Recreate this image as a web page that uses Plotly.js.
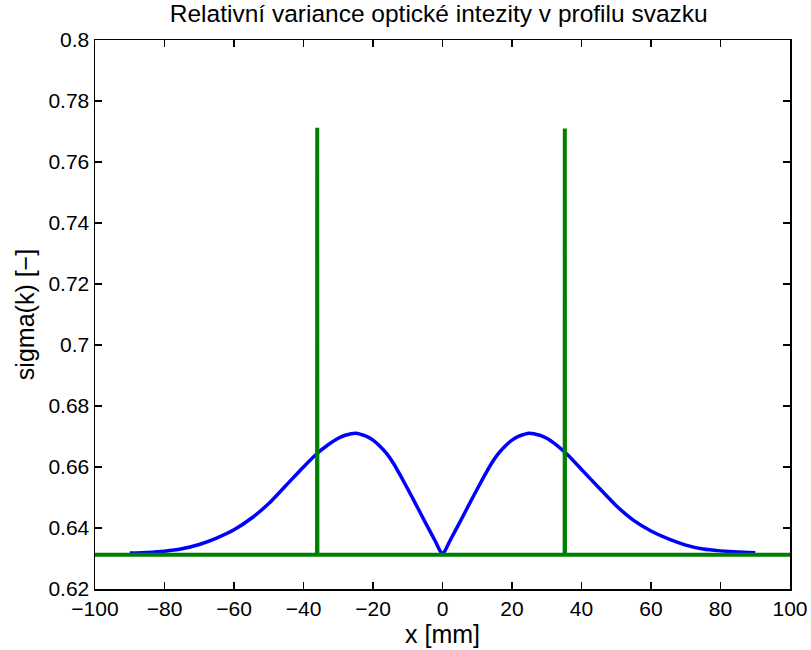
<!DOCTYPE html>
<html>
<head>
<meta charset="utf-8">
<script src="https://cdn.plot.ly/plotly-3.0.1.min.js"></script>
<style>html,body{margin:0;padding:0;background:#fff}#chart{width:811px;height:650px}</style>
</head>
<body>
<div id="chart"></div>
<script>
// Blue curve: relative variance across beam profile
const blueX = [-90,-85,-80,-75,-70,-65,-60,-55,-50,-45,-40,-36,-33,-30,-28,-25,-22,-20,-18,-16,-14,-12,-10,-8,-6,-4,-2,0,
               2,4,6,8,10,12,14,16,18,20,22,25,28,30,33,36,40,45,50,55,60,65,70,75,80,85,90];
const blueY = [0.6318,0.6320,0.6324,0.6332,0.6346,0.6367,0.6394,0.6432,0.6480,0.6540,0.6600,0.6645,0.6672,0.6694,0.6704,0.6711,0.6701,0.6688,0.6668,0.6643,0.6610,0.6570,0.6528,0.6485,0.6441,0.6398,0.6355,0.6313,
               0.6355,0.6398,0.6441,0.6485,0.6528,0.6570,0.6610,0.6643,0.6668,0.6688,0.6701,0.6711,0.6704,0.6694,0.6670,0.6640,0.6592,0.6532,0.6473,0.6425,0.6390,0.6364,0.6344,0.6331,0.6325,0.6321,0.6319];
// Green trace: baseline with two narrow spikes
const greenX = [-100,-36.1,-36.05,-36.0,35.15,35.2,35.25,100];
const greenY = [0.6312,0.6312,0.7712,0.6312,0.6312,0.7710,0.6312,0.6312];

const titleText = 'Relativní variance optické intezity v profilu svazku';
const xTitle = 'x [mm]';
const yTitle = 'sigma(k) [−]';

const font = 'Liberation Sans, Arial, sans-serif';

const traces = [
  {x: blueX, y: blueY, type: 'scatter', mode: 'lines',
   line: {color: '#0000ff', width: 3.5, shape: 'spline', smoothing: 0.5}, hoverinfo: 'skip'},
  {x: greenX, y: greenY, type: 'scatter', mode: 'lines',
   line: {color: '#008000', width: 4}, hoverinfo: 'skip'}
];

const axisCommon = {
  showgrid: false, zeroline: false, showline: true, linecolor: '#000', linewidth: 1.5,
  mirror: 'ticks', ticks: 'inside', ticklen: 7, tickcolor: '#000', tickwidth: 1.2,
  tickfont: {family: font, size: 21, color: '#000'}
};

const layout = {
  width: 811, height: 650,
  margin: {l: 95, r: 21, t: 40, b: 61},
  paper_bgcolor: '#fff', plot_bgcolor: '#fff',
  showlegend: false,
  title: {text: titleText, font: {family: font, size: 24.5, color: '#000'}, x: 0.541, xanchor: 'center', y: 0.992, yanchor: 'top'},
  xaxis: Object.assign({}, axisCommon, {
    range: [-100, 100], tickmode: 'linear', tick0: -100, dtick: 20,
    title: {text: xTitle, font: {family: font, size: 25, color: '#000'}, standoff: 2}
  }),
  yaxis: Object.assign({}, axisCommon, {
    range: [0.62, 0.8], tickmode: 'linear', tick0: 0.62, dtick: 0.02,
    title: {text: yTitle, font: {family: font, size: 25, color: '#000'}, standoff: 6}
  })
};

Plotly.newPlot('chart', traces, layout, {displayModeBar: false, staticPlot: true});
</script>
</body>
</html>
